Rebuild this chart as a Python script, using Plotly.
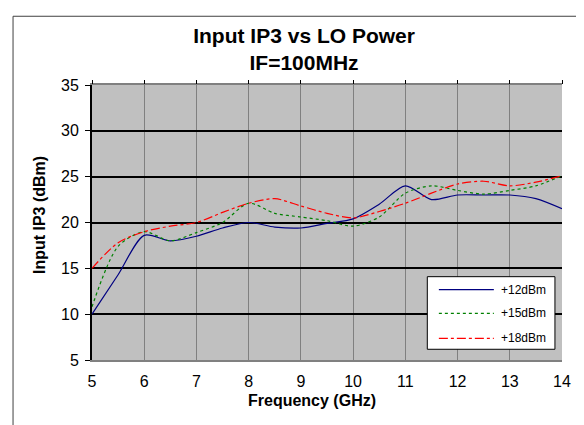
import plotly.graph_objects as go

freq = [5, 5.5, 6, 6.5, 7, 7.5, 8, 8.5, 9, 9.5, 10, 10.5, 11, 11.5, 12, 12.5, 13, 13.5, 14]

ip3_12 = [10.0, 14.3, 18.6, 18.0, 18.5, 19.4, 20.0, 19.5, 19.4, 19.9, 20.4, 22.0, 24.0, 22.5, 23.0, 23.0, 23.0, 22.6, 21.5]
ip3_15 = [10.8, 17.4, 19.0, 18.0, 18.9, 20.0, 22.1, 21.0, 20.6, 20.2, 19.6, 20.6, 23.2, 24.0, 23.5, 23.1, 23.5, 24.0, 25.1]
ip3_18 = [15.0, 17.8, 19.0, 19.6, 20.0, 21.1, 22.1, 22.6, 21.8, 21.0, 20.5, 21.2, 22.1, 23.2, 24.2, 24.5, 24.0, 24.4, 25.1]

series_names = ["+12dBm", "+15dBm", "+18dBm"]
series_values = [ip3_12, ip3_15, ip3_18]
series_colors = ["#000080", "#008000", "#FF0000"]
series_dash = ["solid", "dot", "dashdot"]

x_ticks = [5, 6, 7, 8, 9, 10, 11, 12, 13, 14]
y_ticks = [5, 10, 15, 20, 25, 30, 35]

FONT = "Arial, Liberation Sans, sans-serif"

fig = go.Figure()
for name, vals, color, dash in zip(series_names, series_values, series_colors, series_dash):
    fig.add_trace(go.Scatter(
        x=freq, y=vals, name=name, mode="lines",
        line=dict(color=color, width=1.2, dash=dash, shape="spline", smoothing=0.8),
    ))

# invisible trace so the top axis (tick marks only) is drawn
fig.add_trace(go.Scatter(x=[5, 14], y=[5, 5], xaxis="x2", mode="lines",
                         line=dict(width=0), showlegend=False, hoverinfo="skip"))

shapes = [
    # outer chart frame (left and top edges visible)
    dict(type="line", xref="paper", yref="paper", x0=-0.168, x1=-0.168, y0=-0.3, y1=1.25,
         line=dict(color="#404040", width=1), layer="above"),
    dict(type="line", xref="paper", yref="paper", x0=-0.168, x1=1.1, y0=1.25, y1=1.25,
         line=dict(color="#404040", width=1), layer="above"),
    # legend box
    dict(type="rect", xref="paper", yref="paper", x0=0.7134, x1=0.985, y0=0.039, y1=0.303,
         line=dict(color="black", width=1), fillcolor="white", layer="above"),
]
annotations = []
leg_y = [0.2556, 0.1698, 0.0789]
for name, color, dash, ly in zip(series_names, series_colors, series_dash, leg_y):
    shapes.append(dict(type="line", xref="paper", yref="paper", x0=0.738, x1=0.855,
                       y0=ly, y1=ly, line=dict(color=color, width=1.2, dash=dash),
                       layer="above"))
    annotations.append(dict(text=name, xref="paper", yref="paper", x=0.866, y=ly,
                            xanchor="left", yanchor="middle", showarrow=False,
                            font=dict(size=12, family=FONT, color="black")))

annotations.append(dict(text="<b>Frequency (GHz)</b>", xref="paper", yref="paper",
                        x=0.468, y=-0.1455, xanchor="center", yanchor="middle",
                        showarrow=False, font=dict(size=16, family=FONT, color="black")))
annotations.append(dict(text="<b>Input IP3 (dBm)</b>", xref="paper", yref="paper",
                        x=-0.1128, y=0.527, xanchor="center", yanchor="middle",
                        textangle=-90, showarrow=False,
                        font=dict(size=16, family=FONT, color="black")))

# page body has an 8px margin: figure is 576x417 so it fits the 584x425 window
fig.update_layout(
    width=576, height=417,
    margin=dict(l=84, r=22, t=77, b=65, autoexpand=False),
    paper_bgcolor="white",
    plot_bgcolor="#C0C0C0",
    font=dict(family=FONT, color="black", size=16),
    title=dict(text="<b>Input IP3 vs LO Power<br>IF=100MHz</b>",
               x=0.514, xanchor="center", y=0.917, yanchor="top",
               font=dict(size=21, family=FONT)),
    xaxis=dict(range=[5, 14], tickvals=x_ticks, showgrid=True, gridcolor="#808080",
               gridwidth=1, zeroline=False, showline=True, linecolor="#808080",
               linewidth=2, mirror=True, ticks="", automargin=False,
               ticklabelstandoff=6, tickfont=dict(size=16)),
    xaxis2=dict(range=[5, 14], overlaying="x", side="top", tickvals=x_ticks,
                ticks="outside", ticklen=4, tickcolor="black", showticklabels=False,
                showgrid=False, zeroline=False, showline=False, automargin=False),
    yaxis=dict(range=[5, 35], tickvals=y_ticks, showgrid=True, gridcolor="black",
               gridwidth=1.5, zeroline=False, showline=True, linecolor="black",
               linewidth=2, ticks="outside", ticklen=5, tickcolor="black",
               automargin=False, ticklabelstandoff=3, tickfont=dict(size=16)),
    shapes=shapes,
    annotations=annotations,
    showlegend=False,
)

fig.write_html("out.html")
